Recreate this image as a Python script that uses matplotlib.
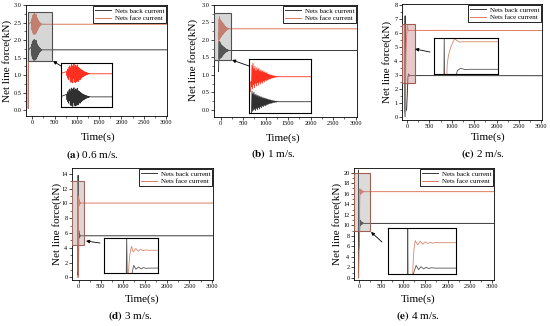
import numpy as np
import matplotlib
matplotlib.use('Agg')
import matplotlib.pyplot as plt
from matplotlib.patches import Rectangle
from matplotlib.ticker import MultipleLocator, FormatStrFormatter, AutoMinorLocator

plt.rcParams['font.family'] = ['Liberation Serif', 'DejaVu Serif']
plt.rcParams['mathtext.fontset'] = 'stix'

W, H = 550, 326

# ---------------- data ----------------
# (a) 0.6 m/s
t_osc_a = np.arange(-20, 220, 4)
face_osc_a = [2.52, 2.38, 2.60, 2.31, 2.57, 2.27, 2.66, 2.35, 2.70, 2.22,
              2.63, 2.18, 2.74, 2.26, 2.68, 2.16, 2.72, 2.30, 2.76, 2.20,
              2.65, 2.17, 2.71, 2.25, 2.69, 2.19, 2.73, 2.24, 2.66, 2.21,
              2.64, 2.27, 2.62, 2.26, 2.60, 2.30, 2.58, 2.32, 2.56, 2.35,
              2.54, 2.36, 2.53, 2.38, 2.51, 2.39, 2.50, 2.41, 2.49, 2.42,
              2.48, 2.43, 2.47, 2.44, 2.46, 2.44, 2.46, 2.45, 2.45, 2.45]
back_osc_a = [1.80, 1.63, 1.88, 1.57, 1.84, 1.52, 1.93, 1.60, 1.97, 1.47,
              1.90, 1.44, 2.00, 1.51, 1.95, 1.42, 1.98, 1.55, 2.01, 1.46,
              1.92, 1.43, 1.97, 1.50, 1.94, 1.45, 1.99, 1.49, 1.92, 1.47,
              1.90, 1.53, 1.88, 1.52, 1.86, 1.56, 1.84, 1.58, 1.82, 1.61,
              1.80, 1.62, 1.79, 1.64, 1.78, 1.65, 1.77, 1.67, 1.76, 1.68,
              1.75, 1.69, 1.74, 1.70, 1.73, 1.71, 1.73, 1.72, 1.72, 1.72]
face_a_t = [-92, -86] + list(t_osc_a) + [3020]
face_a_v = [0.05, 2.45] + face_osc_a + [2.45]
back_a_t = [-90, -84] + list(t_osc_a) + [3020]
back_a_v = [0.05, 1.72] + back_osc_a + [1.72]

# (b) 1 m/s
t_osc_b = np.arange(-40, 200, 4)
face_osc_b = [2.08, 2.60, 2.02, 2.66, 2.12, 2.52, 2.05, 2.58, 2.15, 2.47,
              2.09, 2.55, 2.17, 2.50, 2.11, 2.53, 2.18, 2.46, 2.14, 2.49,
              2.19, 2.45, 2.16, 2.47, 2.21, 2.43, 2.19, 2.44, 2.23, 2.41,
              2.22, 2.42, 2.24, 2.39, 2.25, 2.38, 2.26, 2.37, 2.27, 2.36,
              2.28, 2.36, 2.29, 2.35, 2.29, 2.34, 2.30, 2.34, 2.31, 2.33,
              2.31, 2.33, 2.32, 2.33, 2.32, 2.32, 2.32, 2.32, 2.32, 2.32]
back_osc_b = [1.42, 1.96, 1.46, 1.90, 1.49, 1.94, 1.51, 1.87, 1.48, 1.89,
              1.53, 1.85, 1.50, 1.86, 1.55, 1.83, 1.52, 1.84, 1.57, 1.81,
              1.55, 1.82, 1.59, 1.79, 1.58, 1.80, 1.61, 1.78, 1.60, 1.78,
              1.62, 1.77, 1.63, 1.76, 1.64, 1.75, 1.65, 1.75, 1.66, 1.74,
              1.66, 1.73, 1.67, 1.73, 1.68, 1.72, 1.68, 1.72, 1.69, 1.71,
              1.69, 1.71, 1.70, 1.71, 1.70, 1.70, 1.70, 1.70, 1.70, 1.70]
face_b_t = [-48, -44] + list(t_osc_b) + [3030]
face_b_v = [1.95, 2.20] + face_osc_b + [2.32]
back_b_t = [-50, -46] + list(t_osc_b) + [3030]
back_b_v = [1.10, 1.40] + back_osc_b + [1.70]

# (c) 2 m/s
face_c_t = [-35, -30, -28, -22, -12, 0, 8, 18, 30, 45, 3015]
face_c_v = [0.0, 2.0, 3.5, 4.6, 5.5, 6.2, 6.5, 6.3, 6.12, 6.16, 6.15]
back_c_t = [-44, -42, -40, -10, 5, 20, 35, 55, 80, 3015]
back_c_v = [0.0, 7.2, 0.3, 0.5, 1.5, 2.80, 3.05, 2.90, 2.93, 2.92]

# (d) 3 m/s
face_d_t = [-8, -6, -3, 0, 1.5, 5, 10.5, 16, 21.5, 27, 32.5, 38, 3030]
face_d_v = [0.0, 4.4, 8.5, 10.6, 11.0, 9.6, 10.5, 9.8, 10.3, 9.95, 10.15, 10.05, 10.05]
back_d_t = [-11, -9.6, -8, -2, 2, 6, 11, 17, 22, 28, 33, 40, 3030]
back_d_v = [0.0, 13.8, 0.3, 1.0, 4.2, 6.3, 5.35, 5.9, 5.45, 5.75, 5.55, 5.62, 5.62]

# (e) 4 m/s
face_e_t = [-10, 8, 14, 20, 31, 42, 53, 64, 75, 86, 97, 110, 125, 3050]
face_e_v = [0.0, 8.5, 14.5, 16.9, 15.9, 16.75, 16.05, 16.6, 16.2, 16.5, 16.3, 16.45, 16.4, 16.4]
back_e_t = [-15, -13, -11, 2, 12, 24, 35, 46, 57, 68, 79, 92, 108, 3050]
back_e_v = [0.0, 20.5, 5.5, 6.2, 9.0, 11.0, 10.0, 10.7, 10.15, 10.55, 10.25, 10.45, 10.35, 10.35]

letters = ['a', 'b', 'c', 'd', 'e']
speeds = ['0.6 m/s.', '1 m/s.', '2 m/s.', '3 m/s.', '4 m/s.']
face_t = [face_a_t, face_b_t, face_c_t, face_d_t, face_e_t]
face_v = [face_a_v, face_b_v, face_c_v, face_d_v, face_e_v]
back_t = [back_a_t, back_b_t, back_c_t, back_d_t, back_e_t]
back_v = [back_a_v, back_b_v, back_c_v, back_d_v, back_e_v]

# ---------------- layout (pixels) ----------------
ax_px = [(26, 5, 167, 116), (214, 5, 357, 117), (402, 4, 542, 120),
         (72, 168, 213, 280), (354, 168, 494, 280)]
ins_px = [(61, 63, 112, 107), (249, 59, 311, 113), (434, 38, 498, 74),
          (104, 238, 158, 273), (388, 228, 456, 274)]
xlims = [(-140, 3020), (-150, 3030), (-112, 3015), (-148, 3030), (-115, 3050)]
ylims = [(-0.17, 3.0), (-0.2, 3.0), (-0.25, 8.05), (-0.37, 14.8), (-0.42, 20.9)]
ysteps = [0.5, 0.5, 1, 2, 2]
boxes = [(-90, 448, 1.40, 2.79), (-150, 229, 1.42, 2.76), (-112, 185, 2.38, 6.6),
         (-148, 128, 4.4, 13.1), (-115, 250, 8.95, 19.9)]
ins_xlims = [(-75, 425), (-60, 440), (-90, 210), (-60, 60), (-100, 200)]
box_fc = ['#8a8a8a', '#8a8a8a', '#d08a8a', '#b09898', '#9a9a9a']
box_ec = ['#505050', '#505050', '#a05a50', '#a06a60', '#a06050']
box_alpha = [0.35, 0.35, 0.45, 0.4, 0.35]
arrows = [((61, 66), (53, 61)), ((249, 66), (232, 60)), ((430, 52), (415, 49)),
          ((100, 243), (86, 241)), ((382, 242), (371, 232))]
ylabel_px = [(7, 61), (193, 60), (387, 62), (57, 224), (337, 224)]
xlabel_px = [(98, 137), (283, 138), (488, 137), (142, 299), (418, 299)]
caption_px = [(92, 155), (273, 154), (483, 154), (130, 316), (418, 316)]

FACE = '#e07a62'
BACK = '#3a3a3a'


def px_rect(l, t, r, b):
    return [l / W, 1 - b / H, (r - l) / W, (b - t) / H]


fig = plt.figure(figsize=(W / 100, H / 100), dpi=100)

for i in range(5):
    ax = fig.add_axes(px_rect(*ax_px[i]))
    ax.plot(back_t[i], back_v[i], color=BACK, lw=0.7, label='Nets back current')
    ax.plot(face_t[i], face_v[i], color=FACE, lw=0.7, label='Nets face current')
    ax.set_xlim(*xlims[i])
    ax.set_ylim(*ylims[i])
    ax.xaxis.set_major_locator(MultipleLocator(500))
    ax.yaxis.set_major_locator(MultipleLocator(ysteps[i]))
    ax.xaxis.set_minor_locator(AutoMinorLocator(2))
    ax.yaxis.set_minor_locator(AutoMinorLocator(2))
    if ysteps[i] < 1:
        ax.yaxis.set_major_formatter(FormatStrFormatter('%.1f'))
    ax.tick_params(which='major', labelsize=4.5, length=2, width=0.5, pad=1.2)
    ax.tick_params(which='minor', length=1.1, width=0.4)
    for s in ax.spines.values():
        s.set_linewidth(0.6)

    x0, x1, y0, y1 = boxes[i]
    ax.add_patch(Rectangle((x0, y0), x1 - x0, y1 - y0, facecolor=box_fc[i],
                           alpha=box_alpha[i], edgecolor='none', zorder=3))
    ax.add_patch(Rectangle((x0, y0), x1 - x0, y1 - y0, facecolor='none',
                           edgecolor=box_ec[i], lw=0.8, zorder=3))

    leg = ax.legend(loc='upper right', fontsize=5, fancybox=False, edgecolor='black',
                    framealpha=1, borderaxespad=0.1, handlelength=2.2,
                    labelspacing=0.25, borderpad=0.3, handletextpad=0.6)
    leg.get_frame().set_linewidth(0.6)

    # zoomed inset
    axi = fig.add_axes(px_rect(*ins_px[i]))
    fc_in = '#ff3020' if i < 2 else '#d98870'
    bc_in = '#303030' if i < 2 else '#555555'
    axi.plot(back_t[i], back_v[i], color=bc_in, lw=0.6)
    axi.plot(face_t[i], face_v[i], color=fc_in, lw=0.6)
    axi.set_xlim(*ins_xlims[i])
    axi.set_ylim(y0, y1)
    axi.set_xticks([])
    axi.set_yticks([])
    for s in axi.spines.values():
        s.set_linewidth(0.8)

    (tx, ty), (hx, hy) = arrows[i]
    ax.annotate('', xy=(hx, H - hy), xycoords='figure pixels',
                xytext=(tx, H - ty), textcoords='figure pixels',
                arrowprops=dict(arrowstyle='-|>', color='black', lw=0.6,
                                mutation_scale=5, shrinkA=0, shrinkB=0))

    lx, ly = ylabel_px[i]
    fig.text(lx / W, 1 - ly / H, 'Net line force(kN)', rotation=90,
             ha='center', va='center', fontsize=8)
    tx, ty = xlabel_px[i]
    fig.text(tx / W, 1 - ty / H, 'Time(s)', ha='center', va='center', fontsize=8)
    cx, cy = caption_px[i]
    fig.text(cx / W, 1 - cy / H, r'$\mathbf{(%s)}$ %s' % (letters[i], speeds[i]),
             ha='center', va='center', fontsize=8)

fig.savefig('out.png', dpi=100)
